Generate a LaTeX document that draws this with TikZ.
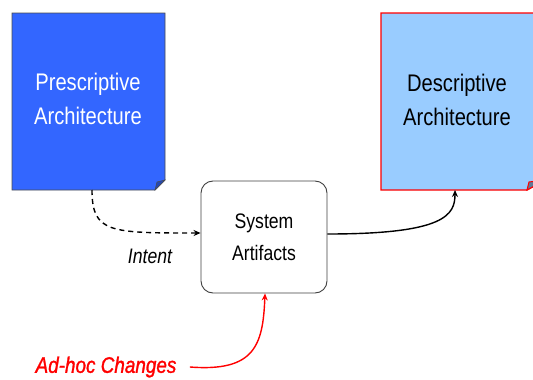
\documentclass[tikz,border=0pt]{standalone}
\usepackage{fontspec}
\setmainfont[FakeStretch=0.84]{Liberation Sans}
\usetikzlibrary{arrows.meta}
\definecolor{presc}{HTML}{3366FF}
\definecolor{descr}{HTML}{99CCFF}
\definecolor{redc}{HTML}{FF0000}
\tikzset{
  lbl/.style={font=\fontsize{24}{34}\selectfont, align=center, inner sep=0pt},
  conn/.style={line width=1.4pt, -{Stealth[length=7pt,width=6pt]}},
}
\begin{document}
\begin{tikzpicture}[x=1pt,y=-1pt]
\useasboundingbox (0,0) rectangle (533,380);
\clip (0,0) rectangle (533,380);
% left box
\fill[presc, draw=black!70, line width=0.8pt] (12,13) -- (165,13) -- (165,180) -- (155,190) -- (12,190) -- cycle;
\fill[presc!70!black, draw=black!70, line width=0.6pt] (155,190) -- (157,182) -- (165,180) -- cycle;
\coordinate (pa) at (92,190);
\node[lbl, text=white] (ptxt) at (88,99) {Prescriptive\\Architecture};
% right box
\fill[descr, draw=redc, line width=1.4pt] (381,13) -- (545,13) -- (545,180) -- (527,190) -- (381,190) -- cycle;
\fill[descr!60!black, draw=redc, line width=1pt] (527,190) -- (529,182) -- (545,180) -- cycle;
\coordinate (da) at (455,190);
\node[lbl, text=black] (dtxt) at (457,100) {Descriptive\\Architecture};
% middle box
\node[draw=black!75, line width=0.9pt, rounded corners=12pt, fill=white, minimum width=126pt, minimum height=112pt, font=\fontsize{21}{32}\selectfont, align=center] (sys) at (264,237) {System\\Artifacts};
% connectors
\draw[conn, dashed, dash pattern=on 5pt off 4pt] (pa) .. controls (92,233) and (110,233) .. (sys.west |- 0,233);
\node[font=\fontsize{21}{24}\selectfont\itshape] (intent) at (150,256) {Intent};
\draw[conn] (sys.east |- 0,234) .. controls (445,234) and (455,215) .. (da);
\node[font=\fontsize{22.5}{26}\selectfont\itshape\addfontfeature{FakeBold=1.2}, text=redc] (adhoc) at (106,367) {Ad-hoc Changes};
\draw[conn, redc] (adhoc.east) ++(10,0) coordinate (adst) .. controls (255,372) and (263,345) .. (sys.south -| 265,0);
\end{tikzpicture}
\end{document}
